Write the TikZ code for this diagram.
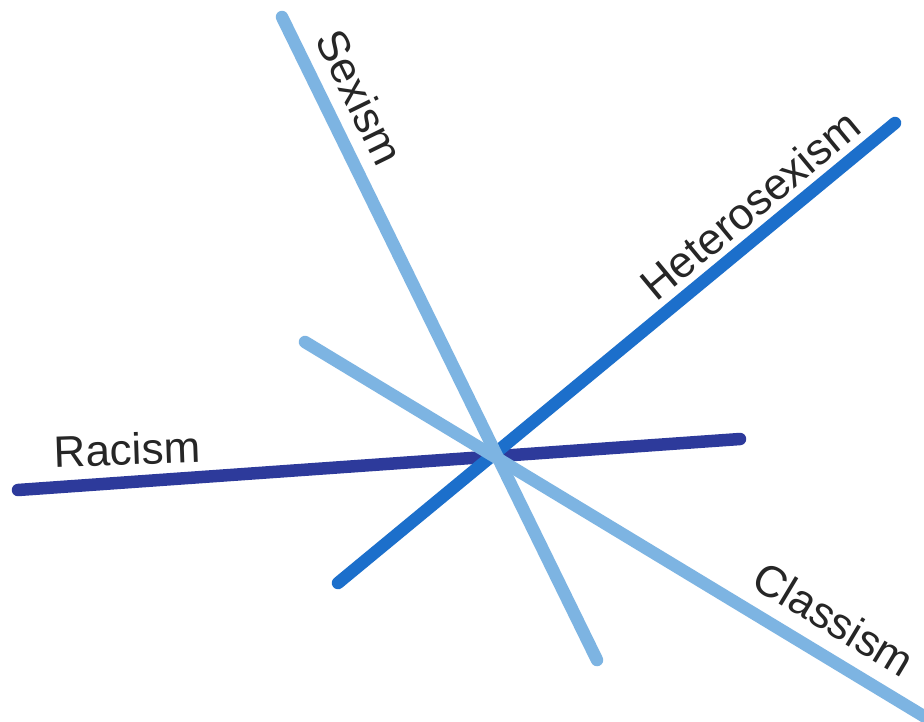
\documentclass[tikz,border=0pt]{standalone}
\usepackage{fontspec}
\setmainfont{Liberation Sans}
\definecolor{lightb}{HTML}{7DB4E2}
\definecolor{midb}{HTML}{1C6FCB}
\definecolor{navyb}{HTML}{2D3A9B}
\begin{document}
\begin{tikzpicture}[x=1pt,y=-1pt,
  bar/.style={line width=12.5pt,line cap=round},
  lbl/.style={font=\fontsize{44}{52}\selectfont,text=black!85,inner sep=0pt}]
\useasboundingbox[fill=white] (0,0) rectangle (924,721);
\coordinate (rA) at (18,490);
\coordinate (rB) at (740,439);
\coordinate (hA) at (338,583);
\coordinate (hB) at (895,123);
\coordinate (cA) at (305,342);
\coordinate (cB) at (940,726);
\coordinate (sA) at (282,17);
\coordinate (sB) at (597,660);
\draw[bar,navyb] (rA) -- (rB);
\draw[bar,midb] (hA) -- (hB);
\draw[bar,lightb] (cA) -- (cB);
\draw[bar,lightb] (sA) -- (sB);
\node[lbl,rotate=2] (racism) at (127,449) {Racism};
\node[lbl,rotate=39.6] (hetero) at (750,205) {Heterosexism};
\node[lbl,rotate=-31] (classism) at (834,619) {Classism};
\node[lbl,rotate=-63.9] (sexism) at (360,97) {Sexism};
\end{tikzpicture}
\end{document}
